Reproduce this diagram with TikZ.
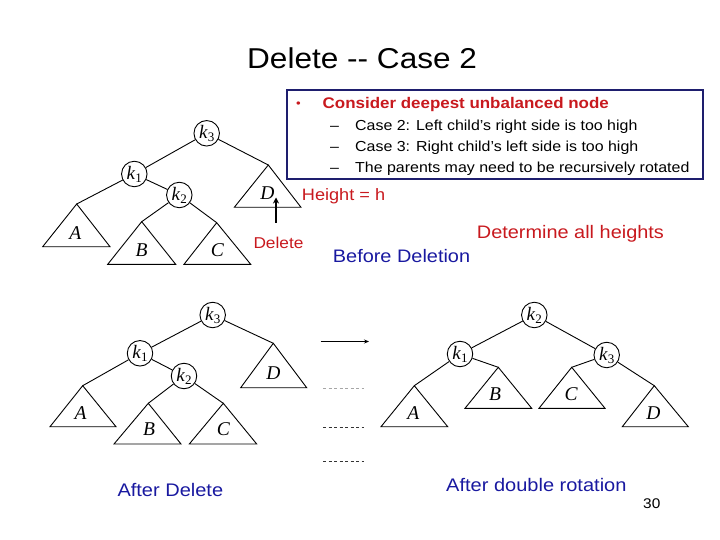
\documentclass[tikz,border=0pt]{standalone}
\usepackage{fontspec}
\setmainfont[FakeStretch=1.1]{Liberation Sans}
\newfontfamily\trfont{Liberation Serif}
\usetikzlibrary{arrows.meta}
\definecolor{tred}{RGB}{200,25,30}
\definecolor{tblue}{RGB}{25,25,160}
\definecolor{tnavy}{RGB}{30,30,110}
\newcommand\fs[1]{\fontsize{#1}{#1}\selectfont}
\newcommand\kk[1]{\textit{k}\raisebox{-3pt}{\fs{13}#1}}
\begin{document}
\begin{tikzpicture}[x=1pt,y=-1pt,
  kc/.style={circle,draw,line width=0.9pt,minimum size=25.5pt,inner sep=0pt,font=\trfont\fs{19}},
  tl/.style={font=\trfont\itshape\fs{19.5},inner sep=0pt},
  tri/.style={draw,line width=0.9pt},
  edge/.style={line width=0.9pt},
  txt/.style={anchor=base west,inner sep=0pt}]
\useasboundingbox (0,0) rectangle (720,540);

% title
\node[txt,font=\fs{28.7}] (title) at (247,69) {Delete -{}- Case 2};

% box
\draw[tnavy,line width=2pt] (287.3,89.7) rectangle (702.5,179.3);
\node[txt,tred,font=\fs{12}] (bul) at (296,108) {\textbullet};
\node[txt,tred,font=\bfseries\fs{15.4}] (l0) at (322.5,108.5) {Consider deepest unbalanced node};
\node[txt,font=\fs{14.5}] (d1) at (330,130.5) {–};
\node[txt,font=\fs{14.5}] (l1) at (355,130.5) {Case 2: Left child's right side is too high};
\node[txt,font=\fs{14.5}] (d2) at (330,151.5) {–};
\node[txt,font=\fs{14.5}] (l2) at (355,151.5) {Case 3: Right child's left side is too high};
\node[txt,font=\fs{14.5}] (d3) at (330,172.5) {–};
\node[txt,font=\fs{14.5}] (l3) at (355,172.5) {The parents may need to be recursively rotated};

% top tree
\node[kc] (tk3) at (206.7,133.3) {\kk3};
\node[kc] (tk1) at (134.3,174) {\kk1};
\node[kc] (tk2) at (179.3,195) {\kk2};
\coordinate (tDa) at (268.3,165);
\coordinate (tAa) at (76.7,204);
\coordinate (tBa) at (141.7,221.7);
\coordinate (tCa) at (216.7,222.7);
\draw[tri] (tDa) -- (234.3,207.3) -- (301,207.3) -- cycle;
\draw[tri] (tAa) -- (42.7,246.7) -- (110,246.7) -- cycle;
\draw[tri] (tBa) -- (107.7,264.3) -- (175.7,264.3) -- cycle;
\draw[tri] (tCa) -- (184,264.3) -- (250.7,264.3) -- cycle;
\node[tl] (tD) at (267.3,192.7) {D};
\node[tl] (tA) at (75.3,233.3) {A};
\node[tl] (tB) at (141.7,250) {B};
\node[tl] (tC) at (217.3,250) {C};
\draw[edge] (tk3) -- (tDa);
\draw[edge] (tk3) -- (tk1);
\draw[edge] (tk1) -- (tAa);
\draw[edge] (tk1) -- (tk2);
\draw[edge] (tk2) -- (tBa);
\draw[edge] (tk2) -- (tCa);
\coordinate (arB) at (276,223);
\coordinate (arT) at (276,197.5);
\draw[line width=1.8pt,-{Stealth[length=6pt,width=6pt]}] (arB) -- (arT);

\node[txt,tred,font=\fs{16.5}] (hh) at (301.7,200.7) {Height = h};
\node[txt,tred,font=\fs{15.7}] (del) at (253.3,248.3) {Delete};
\node[txt,tred,font=\fs{18.1}] (det) at (476.7,238.3) {Determine all heights};
\node[txt,tblue,font=\fs{18.1}] (bef) at (332.7,262.3) {Before Deletion};

% bottom left tree
\node[kc] (bk3) at (212.7,315) {\kk3};
\node[kc] (bk1) at (140,353.3) {\kk1};
\node[kc] (bk2) at (184,376) {\kk2};
\coordinate (bDa) at (273.3,343.3);
\coordinate (bAa) at (82.7,385.7);
\coordinate (bBa) at (148.3,403.3);
\coordinate (bCa) at (223.3,403.3);
\draw[tri] (bDa) -- (240.7,387.7) -- (306.7,387.7) -- cycle;
\draw[tri] (bAa) -- (50,426.7) -- (116,426.7) -- cycle;
\draw[tri] (bBa) -- (114,444) -- (181,444) -- cycle;
\draw[tri] (bCa) -- (189.3,444) -- (256.7,444) -- cycle;
\node[tl] (bD) at (273.3,372.7) {D};
\node[tl] (bA) at (80.7,413) {A};
\node[tl] (bB) at (149,429) {B};
\node[tl] (bC) at (223.3,429) {C};
\draw[edge] (bk3) -- (bDa);
\draw[edge] (bk3) -- (bk1);
\draw[edge] (bk1) -- (bAa);
\draw[edge] (bk1) -- (bk2);
\draw[edge] (bk2) -- (bBa);
\draw[edge] (bk2) -- (bCa);

% arrow and dashes
\coordinate (aL) at (320.7,341.5);
\coordinate (aR) at (369,341.5);
\draw[line width=1.2pt,-{Stealth[length=5pt,width=4pt]}] (aL) -- (aR);
\coordinate (s1L) at (323,388.5); \coordinate (s1R) at (364,388.5);
\coordinate (s2L) at (323,427.5); \coordinate (s2R) at (364,427.5);
\coordinate (s3L) at (323,461.5); \coordinate (s3R) at (364,461.5);
\draw[gray!70,line width=0.9pt,dash pattern=on 3pt off 2.5pt] (s1L) -- (s1R);
\draw[black!80,line width=0.9pt,dash pattern=on 3pt off 2.5pt] (s2L) -- (s2R);
\draw[black!80,line width=0.9pt,dash pattern=on 3pt off 2.5pt] (s3L) -- (s3R);

% bottom right tree
\node[kc] (rk2) at (534.3,315) {\kk2};
\node[kc] (rk1) at (460,354) {\kk1};
\node[kc] (rk3) at (606.7,355) {\kk3};
\coordinate (rAa) at (414.3,385.7);
\coordinate (rBa) at (498.3,367.3);
\coordinate (rCa) at (571.7,367.3);
\coordinate (rDa) at (654.3,385.7);
\draw[tri] (rAa) -- (381,426.7) -- (447.7,426.7) -- cycle;
\draw[tri] (rBa) -- (465,408.3) -- (531.7,408.3) -- cycle;
\draw[tri] (rCa) -- (539,408.3) -- (605,408.3) -- cycle;
\draw[tri] (rDa) -- (622.3,426.7) -- (688.3,426.7) -- cycle;
\node[tl] (rA) at (413.3,413) {A};
\node[tl] (rB) at (495,394) {B};
\node[tl] (rC) at (571,394) {C};
\node[tl] (rD) at (653.3,413) {D};
\draw[edge] (rk2) -- (rk1);
\draw[edge] (rk2) -- (rk3);
\draw[edge] (rk1) -- (rAa);
\draw[edge] (rk1) -- (rBa);
\draw[edge] (rk3) -- (rCa);
\draw[edge] (rk3) -- (rDa);

\node[txt,tblue,font=\fs{18.2}] (aft) at (117.3,496.7) {After Delete};
\node[txt,tblue,font=\fs{18.2}] (adr) at (446,491) {After double rotation};
\node[txt,font=\fs{14}] (pg) at (643,508.3) {30};
\end{tikzpicture}
\end{document}
